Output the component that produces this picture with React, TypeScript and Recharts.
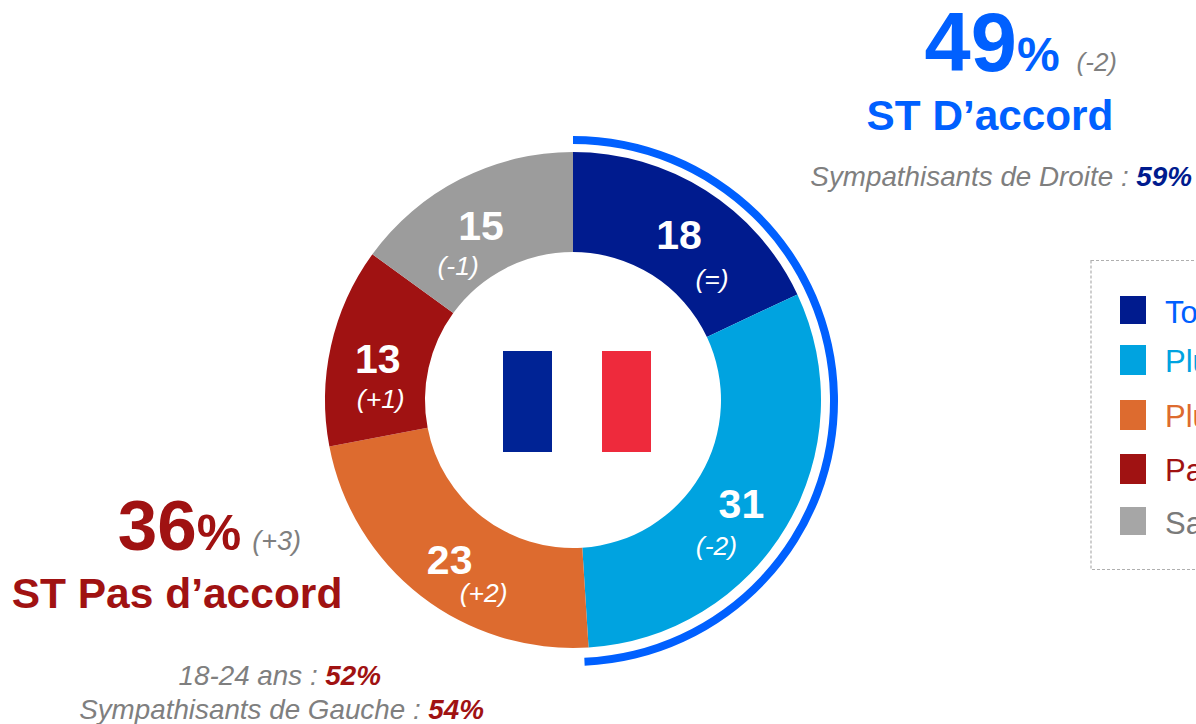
import React from "react";
import { PieChart, Pie, Cell } from "recharts";

const categories = ["Tout à fait d’accord", "Plutôt d’accord", "Plutôt pas d’accord", "Pas du tout d’accord", "Sans opinion"];
const values = [18, 31, 23, 13, 15];
const deltas = ["(=)", "(-2)", "(+2)", "(+1)", "(-1)"];
const colors = ["#001B8E", "#00A3E0", "#DD6B2F", "#A01212", "#9C9C9C"];
const legendColors = ["#001B8E", "#00A3E0", "#DD6B2F", "#A01212", "#A6A6A6"];
const legendText = ["#0060FF", "#00A3E0", "#DD6B2F", "#A01212", "#7A7A7A"];
const agreeArc = [49.3, 50.7];

const FONT = "'Liberation Sans', Arial, sans-serif";
const CX = 573, CY = 400;
const valueDx = [0, -2, -2, -2, -2];
const valueDy = [16, 17, 18, 16, 16];
const deltaDx = [33, -27, 32, 1, -25];
const deltaDy = [55, 54, 46, 51, 51];
const legendY = [296, 345, 400, 454, 507];
const legendH = [28, 30, 30, 30, 28];
const GREY = "#7F7F7F";
const BLUE = "#0060FF";

const renderLabel = (p: any) => {
  const { midAngle, index } = p;
  const r = 198;
  const rad = (midAngle * Math.PI) / 180;
  const x = CX + r * Math.cos(rad);
  const y = CY - r * Math.sin(rad);
  return (
    <g key={index}>
      <text x={x + valueDx[index]} y={y + valueDy[index]} textAnchor="middle" fontSize={41} fontWeight="bold" fill="#fff" fontFamily={FONT}>{values[index]}</text>
      <text x={x + deltaDx[index]} y={y + deltaDy[index]} textAnchor="middle" fontSize={26.5} fontStyle="italic" fill="#fff" fontFamily={FONT}>{deltas[index]}</text>
    </g>
  );
};

export default function App() {
  return (
    <div style={{ position: "absolute", left: 0, top: 0, width: 1196, height: 724, overflow: "hidden", background: "#fff" }}>
      <PieChart width={1196} height={724} margin={{ top: 0, right: 0, bottom: 0, left: 0 }}>
        <Pie data={values.map((v, i) => ({ name: categories[i], value: v }))} dataKey="value" cx={CX} cy={CY} innerRadius={148} outerRadius={248} startAngle={90} endAngle={-270} stroke="none" isAnimationActive={false} label={renderLabel} labelLine={false}>
          {values.map((_, i) => <Cell key={i} fill={colors[i]} />)}
        </Pie>
        <Pie data={agreeArc.map((v) => ({ value: v }))} dataKey="value" cx={CX} cy={CY + 1} innerRadius={257} outerRadius={265} startAngle={90} endAngle={-270} stroke="none" isAnimationActive={false}>
          <Cell fill={BLUE} />
          <Cell fill="none" />
        </Pie>

        <rect x={503} y={351} width={49} height={101} fill="#002395" />
        <rect x={602} y={351} width={49} height={101} fill="#EE2A3C" />

        <g fontFamily={FONT}>
          <text x={1117} y={71} textAnchor="end">
            <tspan fontSize={83} fontWeight="bold" fill={BLUE}>49</tspan>
            <tspan fontSize={48} fontWeight="bold" fill={BLUE}>%</tspan>
            <tspan fontSize={26} fontStyle="italic" fill={GREY} dx={17}>(-2)</tspan>
          </text>
          <text x={990} y={130} textAnchor="middle" fontSize={42.3} fontWeight="bold" fill={BLUE}>ST D’accord</text>
          <text x={1192} y={186} textAnchor="end" fontSize={27.8} fontStyle="italic" fill={GREY}>
            Sympathisants de Droite : <tspan fontWeight="bold" fill="#001B8E">59%</tspan>
          </text>

          <text x={301} y={550} textAnchor="end">
            <tspan fontSize={71} fontWeight="bold" fill="#A01212">36</tspan>
            <tspan fontSize={50} fontWeight="bold" fill="#A01212">%</tspan>
            <tspan fontSize={27} fontStyle="italic" fill={GREY} dx={11}>(+3)</tspan>
          </text>
          <text x={177} y={608} textAnchor="middle" fontSize={42.5} fontWeight="bold" fill="#A01212">ST Pas d’accord</text>
          <text x={381} y={685} textAnchor="end" fontSize={27.8} fontStyle="italic" fill={GREY}>
            18-24 ans : <tspan fontWeight="bold" fill="#A01212">52%</tspan>
          </text>
          <text x={484} y={719} textAnchor="end" fontSize={27.8} fontStyle="italic" fill={GREY}>
            Sympathisants de Gauche : <tspan fontWeight="bold" fill="#A01212">54%</tspan>
          </text>

          <rect x={1091} y={260.5} width={200} height={309} fill="none" stroke="#AFAFAF" strokeWidth={1.2} strokeDasharray="3 2" />
          {categories.map((c, i) => (
            <g key={c}>
              <rect x={1120} y={legendY[i]} width={26} height={legendH[i]} fill={legendColors[i]} />
              <text x={1165} y={legendY[i] + 27} fontSize={31} fill={legendText[i]}>{c}</text>
            </g>
          ))}
        </g>
      </PieChart>
    </div>
  );
}
